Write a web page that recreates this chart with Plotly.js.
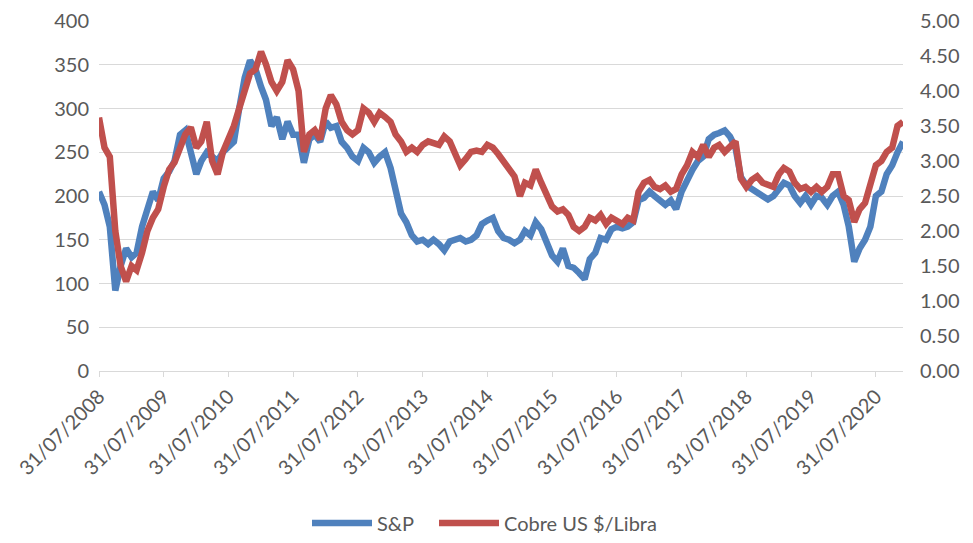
<!DOCTYPE html>
<html>
<head>
<meta charset="utf-8">
<script src="https://cdn.plot.ly/plotly-3.0.1.min.js"></script>
<style>html,body{margin:0;padding:0;background:#fff}#chart{width:973px;height:543px}</style>
</head>
<body>
<div id="chart"></div>
<script>
// Monthly samples, first month = July 2008 (month-end dates)
const startYear = 2008, startMonth = 7;

const spValues = [
 205,190,165,92,120,140,130,135,165,185,205,195,
 220,228,240,270,275,250,225,240,250,245,240,250,
 255,262,300,335,355,345,325,310,280,290,265,285,
 270,270,238,265,270,262,285,278,280,262,255,245,
 240,255,250,238,245,250,232,210,180,170,155,148,
 150,145,150,145,138,148,150,152,148,150,155,168,
 172,175,160,152,150,146,150,160,155,170,162,148,
 132,125,140,120,118,112,105,128,135,152,150,162,
 165,163,165,170,195,198,205,200,195,190,195,185,
 205,220,230,240,245,265,270,272,275,268,255,222,
 212,208,205,200,196,200,208,215,212,200,192,200,
 190,200,198,190,200,205,190,165,125,140,150,165,
 200,205,225,235,250,262
];

const copperValues = [
 3.62,3.19,3.06,2.00,1.50,1.28,1.50,1.44,1.69,2.00,2.19,2.31,
 2.63,2.88,2.98,3.19,3.38,3.48,3.19,3.28,3.56,3.00,2.81,3.13,
 3.31,3.50,3.75,4.00,4.25,4.31,4.56,4.38,4.13,4.00,4.13,4.44,
 4.31,4.00,3.13,3.38,3.44,3.31,3.75,3.94,3.81,3.56,3.44,3.38,
 3.44,3.75,3.69,3.56,3.69,3.63,3.56,3.38,3.28,3.13,3.19,3.13,
 3.23,3.28,3.25,3.23,3.35,3.28,3.10,2.94,3.03,3.13,3.15,3.13,
 3.23,3.19,3.10,3.00,2.90,2.78,2.50,2.69,2.65,2.88,2.69,2.50,
 2.35,2.28,2.31,2.23,2.06,2.00,2.06,2.19,2.15,2.23,2.10,2.19,
 2.15,2.10,2.19,2.15,2.56,2.69,2.73,2.63,2.60,2.65,2.56,2.60,
 2.81,2.94,3.13,3.06,3.23,3.06,3.19,3.23,3.13,3.19,3.28,2.75,
 2.63,2.73,2.78,2.69,2.65,2.63,2.81,2.90,2.85,2.69,2.60,2.63,
 2.56,2.63,2.56,2.63,2.81,2.81,2.50,2.44,2.13,2.31,2.40,2.69,
 2.94,3.00,3.13,3.19,3.50,3.56
];

const tickDates = ["2008-07-31","2009-07-31","2010-07-31","2011-07-31","2012-07-31","2013-07-31","2014-07-31","2015-07-31","2016-07-31","2017-07-31","2018-07-31","2019-07-31","2020-07-31"];
const tickLabels = ["31/07/2008","31/07/2009","31/07/2010","31/07/2011","31/07/2012","31/07/2013","31/07/2014","31/07/2015","31/07/2016","31/07/2017","31/07/2018","31/07/2019","31/07/2020"];

const seriesNames = ["S&P", "Cobre US $/Libra"];

function monthEnd(i) {
  const mIdx = startMonth - 1 + i;
  const y = startYear + Math.floor(mIdx / 12);
  const m = mIdx % 12;
  const d = new Date(Date.UTC(y, m + 1, 0));
  return d.toISOString().slice(0, 10);
}
const dates = spValues.map((_, i) => monthEnd(i));

const font = "Lato, 'Open Sans', sans-serif";
const grey = "#595959";
const fs = 20;

const traces = [
  {x: dates, y: spValues, name: seriesNames[0], type: "scatter", mode: "lines", legend: "legend",
   line: {color: "#4f81bd", width: 6.5}, yaxis: "y"},
  {x: dates, y: copperValues, name: seriesNames[1], type: "scatter", mode: "lines", legend: "legend2",
   line: {color: "#c0504d", width: 6.5}, yaxis: "y2"}
];

const legendBase = {orientation: "h", xanchor: "left", y: (543 - 523) / 543, yanchor: "middle", yref: "container",
                    xref: "container", font: {family: font, size: fs, color: grey}, itemwidth: 60,
                    bgcolor: "rgba(0,0,0,0)"};

const layout = {
  width: 973, height: 543,
  margin: {l: 99, r: 70, t: 21, b: 172},
  paper_bgcolor: "#fff", plot_bgcolor: "#fff",
  font: {family: font, size: fs, color: grey},
  showlegend: true,
  legend: Object.assign({}, legendBase, {x: 307 / 973}),
  legend2: Object.assign({}, legendBase, {x: 434 / 973}),
  xaxis: {
    type: "date", range: ["2008-07-31", "2020-12-31"],
    tickmode: "array", tickvals: tickDates, ticktext: tickLabels, tickangle: -45,
    showgrid: false, showline: true, linecolor: "#d9d9d9", linewidth: 1,
    ticks: "outside", ticklen: 5, tickcolor: "#d9d9d9",
    tickfont: {family: font, size: fs, color: grey}, zeroline: false
  },
  yaxis: {
    range: [0, 400], dtick: 50, tick0: 0, showgrid: true, gridcolor: "#d9d9d9", gridwidth: 1,
    zeroline: false, showline: false, ticks: "", tickfont: {family: font, size: fs, color: grey},
    ticklabelstandoff: 9
  },
  yaxis2: {
    range: [0, 5], dtick: 0.5, tick0: 0, overlaying: "y", side: "right", showgrid: false,
    zeroline: false, showline: false, ticks: "", tickformat: ".2f",
    tickfont: {family: font, size: fs, color: grey}, ticklabelstandoff: 16
  }
};

Plotly.newPlot("chart", traces, layout, {displayModeBar: false, staticPlot: true});
</script>
</body>
</html>
